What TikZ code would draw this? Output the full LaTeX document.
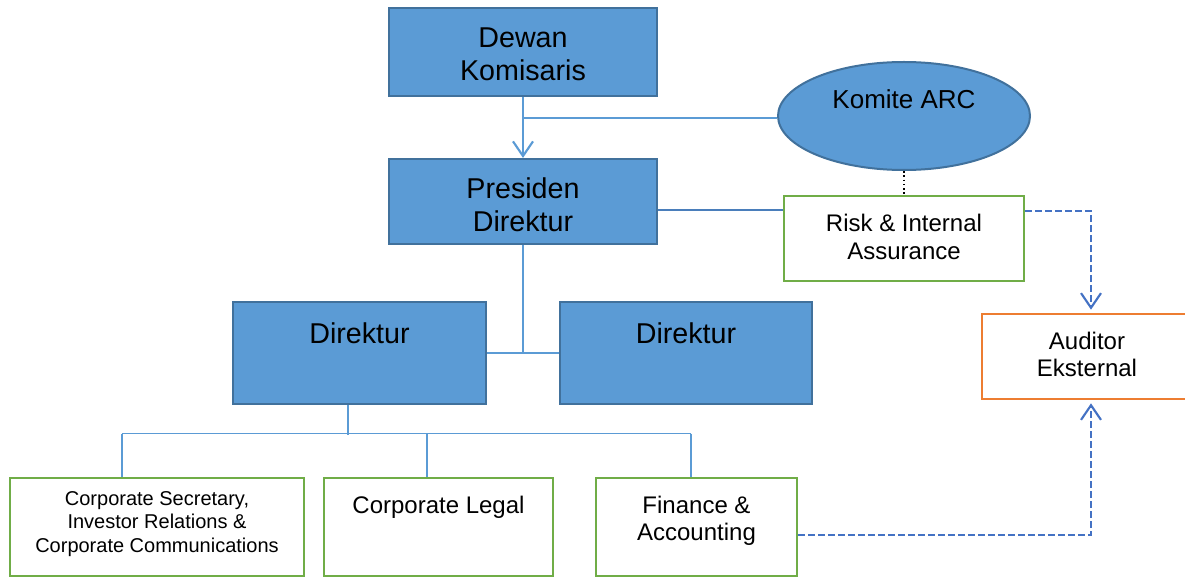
\documentclass[tikz,border=0pt]{standalone}
\usepackage{fontspec}
\setmainfont{Liberation Sans}
\usetikzlibrary{arrows.meta,shapes.geometric,calc}
\definecolor{boxblue}{HTML}{5B9BD5}
\definecolor{boxedge}{HTML}{41719C}
\definecolor{grn}{HTML}{70AD47}
\definecolor{org}{HTML}{ED7D31}
\definecolor{dashblue}{HTML}{4472C4}
\definecolor{linkblue}{HTML}{5B9BD5}
\definecolor{darklink}{HTML}{4A7EBB}
\begin{document}
\begin{tikzpicture}[x=0.75pt,y=-0.75pt,
  bluebox/.style={draw=boxedge, fill=boxblue, line width=1.6pt, inner sep=0pt, align=center},
  greenbox/.style={draw=grn, fill=white, line width=2pt, inner sep=0pt, align=center},
  orangebox/.style={draw=org, fill=white, line width=2pt, inner sep=0pt, align=center},
  bigtext/.style={font=\fontsize{21.5}{24.75}\selectfont},
  midtext/.style={font=\fontsize{18}{21}\selectfont},
  txt/.style={inner sep=0pt, align=center},
  link/.style={draw=linkblue, line width=1pt},
  dashlink/.style={draw=dashblue, line width=1.6pt, dash pattern=on 5pt off 2.5pt},
  barb/.style={-{Straight Barb[length=11pt,width=15pt,line width=1.6pt]}}
]
\useasboundingbox (0,0) rectangle (1185,577);

% top level
\node[bluebox, minimum width=201pt, minimum height=66pt] (dewan) at (523,52) {};
\node[txt, bigtext] (dewantext) at (523,54) {Dewan\\Komisaris};
\node[bluebox, minimum width=201pt, minimum height=63.75pt] (presiden) at (523,201.5) {};
\node[txt, bigtext] (presidentext) at (523,204.5) {Presiden\\Direktur};

\node[ellipse, draw=boxedge, fill=boxblue, line width=1.5pt, minimum width=189pt, minimum height=81pt, inner sep=0pt] (arc) at (904,116) {};
\node[txt, font=\fontsize{19.5}{22}\selectfont] (arctext) at (904,99) {Komite ARC};

\node[greenbox, midtext, minimum width=180pt, minimum height=63.75pt] (risk) at (904,238.5) {};
\node[txt, font=\fontsize{18}{21}\selectfont] (risktext) at (904,236.5) {Risk \& Internal\\Assurance};
\node[orangebox, font=\fontsize{18}{20.25}\selectfont, minimum width=157.5pt, minimum height=63.75pt] (auditor) at (1087,356.5) {};
\node[txt, font=\fontsize{18}{20.25}\selectfont] (auditortext) at (1087,354) {Auditor\\Eksternal};

% directors
\node[bluebox, minimum width=189.75pt, minimum height=76.5pt] (dir1) at (359.5,353) {};
\node[txt, bigtext] (dir1text) at (359.5,333) {Direktur};
\node[bluebox, minimum width=189pt, minimum height=76.5pt] (dir2) at (686,353) {};
\node[txt, bigtext] (dir2text) at (686,333) {Direktur};

% bottom units
\node[greenbox, minimum width=220.5pt, minimum height=73.5pt] (cs) at (157,527) {};
\node[txt, font=\fontsize{15}{17.6}\selectfont] (cstext) at (157,524) {Corporate Secretary,\\Investor Relations \&\\Corporate Communications};
\node[greenbox, minimum width=171.75pt, minimum height=73.5pt] (legal) at (438.5,527) {};
\node[txt, midtext] (legaltext) at (438.5,507) {Corporate Legal};
\node[greenbox, minimum width=150.75pt, minimum height=73.5pt] (fin) at (696.5,527) {};
\node[txt, font=\fontsize{18}{20.25}\selectfont] (fintext) at (696.5,521) {Finance \&\\Accounting};

% connectors
\draw[link, line width=1.6pt, barb] (dewan.south) -- (presiden.north);
\coordinate (j1) at ($(dewan.south)+(0,21)$);
\draw[link] (j1) -- (j1 -| arc.west);
\draw[black, line width=1.2pt, dotted] (arc.south) -- (risk.north);
\coordinate (pr) at ($(presiden.east)+(0,8.5)$);
\draw[draw=darklink, line width=1.2pt] (pr) -- (pr -| risk.west);

\draw[link] (presiden.south) -- (presiden.south |- dir1.east);
\draw[link] (dir1.east) -- (dir2.west);

\coordinate (d1) at ($(dir1.south)+(-11.5,0)$);
\coordinate (bus) at (348,435);
\draw[link] (d1) -- (bus);
\coordinate (bl) at ($(cs.north)+(-35,-43)$);
\coordinate (br) at ($(fin.north)+(-5.5,-43)$);
\draw[link] (bl) -- (br);
\draw[link] (bl) -- ($(cs.north)+(-35,0)$);
\draw[link] ($(legal.north)+(-11.5,-43)$) -- ($(legal.north)+(-11.5,0)$);
\draw[link] (br) -- ($(fin.north)+(-5.5,0)$);

\draw[dashlink, barb] ($(risk.east)+(0,-27.5)$) -| ($(auditor.north)+(4,-3)$);
\draw[dashlink, barb] ($(fin.east)+(0,8)$) -| ($(auditor.south)+(4,3)$);
\end{tikzpicture}
\end{document}
